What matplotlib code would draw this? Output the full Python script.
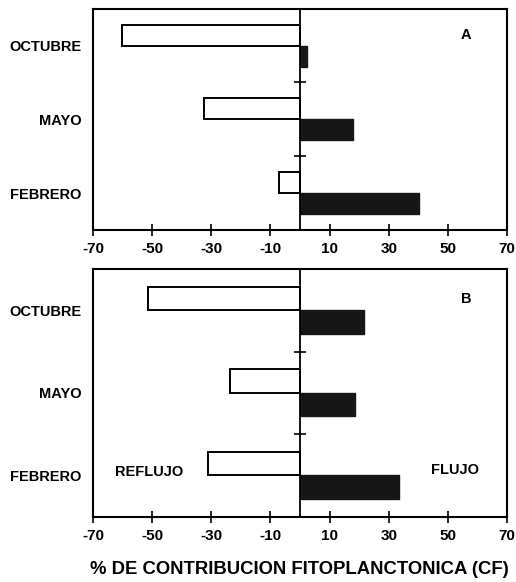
import numpy as np
import matplotlib.pyplot as plt

plt.rcParams['font.family'] = ['Liberation Sans', 'DejaVu Sans']
plt.rcParams['font.weight'] = 'bold'

# Data
meses = ['OCTUBRE', 'MAYO', 'FEBRERO']
reflujo_A = [-60.0, -32.6, -7.2]
flujo_A = [2.4, 17.8, 40.1]
reflujo_B = [-51.3, -23.6, -31.0]
flujo_B = [21.6, 18.4, 33.4]
xticks = [-70, -50, -30, -10, 10, 30, 50, 70]

fig = plt.figure(figsize=(5.16, 5.82), dpi=100)
ax_a = fig.add_axes([0.180, 0.605, 0.803, 0.380])
ax_b = fig.add_axes([0.180, 0.112, 0.803, 0.426])


def panel(ax, refl, flu, letra):
    y = np.arange(len(meses))[::-1].astype(float)
    h = 0.285
    ax.barh(y + h / 2, refl, height=h, color='white', edgecolor='black', linewidth=1.4)
    ax.barh(y - h / 2, flu, height=h, color='#161616', edgecolor='#161616', linewidth=1.0)
    ax.axvline(0, color='black', linewidth=1.3)
    # small cross ticks on the zero line between the categories
    mids = (y[:-1] + y[1:]) / 2
    ax.plot(np.zeros(len(mids)), mids, marker='_', ms=9, mew=1.2,
            color='black', linestyle='none')
    ax.set_xlim(-70, 70)
    ax.set_ylim(-0.5, len(meses) - 0.5)
    ax.set_xticks(xticks)
    ax.set_xticklabels([str(t) for t in xticks], fontsize=11, fontweight='bold')
    ax.set_yticks(y)
    ax.set_yticklabels(meses, fontsize=10.5, fontweight='bold')
    ax.tick_params(axis='y', length=0, pad=8)
    ax.tick_params(axis='x', direction='inout', length=8, width=1.2, pad=5)
    for s in ax.spines.values():
        s.set_linewidth(1.5)
    ax.text(0.90, 0.88, letra, transform=ax.transAxes, fontsize=10.5,
            fontweight='bold', ha='center', va='center')


panel(ax_a, reflujo_A, flujo_A, 'A')
panel(ax_b, reflujo_B, flujo_B, 'B')

ax_b.text(0.135, 0.18, 'REFLUJO', transform=ax_b.transAxes, fontsize=10.5,
          fontweight='bold', ha='center', va='center')
ax_b.text(0.875, 0.19, 'FLUJO', transform=ax_b.transAxes, fontsize=10.5,
          fontweight='bold', ha='center', va='center')

fig.text(0.58, 0.022, '% DE CONTRIBUCION FITOPLANCTONICA (CF)',
         fontsize=13.3, fontweight='bold', ha='center', va='center')

fig.savefig('out.png', dpi=100)
